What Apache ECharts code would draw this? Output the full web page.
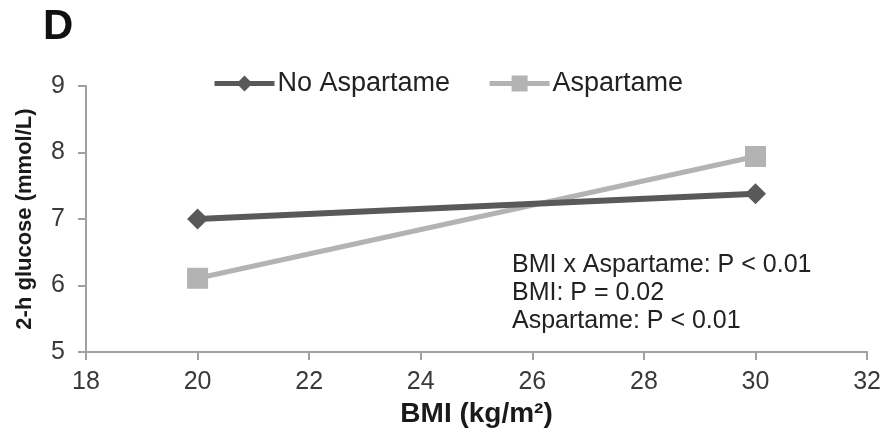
<!DOCTYPE html>
<html>
<head>
<meta charset="utf-8">
<script src="https://cdn.jsdelivr.net/npm/echarts@6/dist/echarts.min.js"></script>
<style>
  html, body { margin: 0; padding: 0; background: #fff; }
  #chart { width: 884px; height: 433px; }
</style>
</head>
<body>
<div id="chart"></div>
<script>
// BMI values at which 2-h glucose was estimated
const bmi = [20, 30];
// Predicted 2-h glucose (mmol/L) for each group
const noAspartame = [7.0, 7.38];
const aspartame = [6.11, 7.94];
// Axis settings
const xTicks = { min: 18, max: 32, interval: 2 };
const yTicks = { min: 5, max: 9, interval: 1 };
// Statistics printed inside the plot
const statLines = ['BMI x Aspartame: P < 0.01', 'BMI: P = 0.02', 'Aspartame: P < 0.01'];

const font = '"Liberation Sans", Arial, sans-serif';
const axisColor = '#a0a0a0';
const labelColor = '#3a3a3a';
const darkGray = '#595959';
const lightGray = '#b3b3b3';

const chart = echarts.init(document.getElementById('chart'), null, { renderer: 'canvas' });

chart.setOption({
  animation: false,
  backgroundColor: '#ffffff',
  title: {
    text: 'D',
    left: 43,
    top: 6,
    padding: 0,
    textStyle: { fontFamily: font, fontSize: 42, fontWeight: 'bold', color: '#111' }
  },
  legend: {
    top: 70,
    left: 212,
    padding: 0,
    itemWidth: 60,
    itemHeight: 20,
    itemGap: 37,
    lineStyle: { width: 5 },
    textStyle: { fontFamily: font, fontSize: 27, color: '#222', padding: [0, 0, 0, -2] },
    data: ['No Aspartame', 'Aspartame']
  },
  grid: { left: 86, right: 16, top: 86, bottom: 77, containLabel: false },
  xAxis: {
    type: 'value',
    min: xTicks.min, max: xTicks.max, interval: xTicks.interval,
    name: 'BMI (kg/m²)',
    nameLocation: 'middle',
    nameGap: 45,
    nameTextStyle: { fontFamily: font, fontSize: 28, fontWeight: 'bold', color: '#1a1a1a' },
    axisLine: { lineStyle: { color: axisColor, width: 2 } },
    axisTick: { show: true, length: 8, lineStyle: { color: axisColor, width: 2 } },
    axisLabel: { fontFamily: font, fontSize: 25, color: labelColor, margin: 18 },
    splitLine: { show: false }
  },
  yAxis: {
    type: 'value',
    min: yTicks.min, max: yTicks.max, interval: yTicks.interval,
    name: '2-h glucose (mmol/L)',
    nameLocation: 'middle',
    nameGap: 50,
    nameTextStyle: { fontFamily: font, fontSize: 22, fontWeight: 'bold', color: '#1a1a1a' },
    axisLine: { show: true, lineStyle: { color: axisColor, width: 2 } },
    axisTick: { show: true, length: 8, lineStyle: { color: axisColor, width: 2 } },
    axisLabel: { fontFamily: font, fontSize: 25, color: labelColor, margin: 21 },
    splitLine: { show: false }
  },
  graphic: statLines.map((t, i) => ({
    type: 'text',
    left: 512,
    top: 253 + i * 28,
    style: { text: t, font: '25px ' + font, fill: '#222' }
  })),
  series: [
    {
      name: 'No Aspartame',
      type: 'line',
      data: bmi.map((x, i) => [x, noAspartame[i]]),
      symbol: 'diamond',
      symbolSize: 21,
      lineStyle: { color: darkGray, width: 6 },
      itemStyle: { color: darkGray },
      z: 3
    },
    {
      name: 'Aspartame',
      type: 'line',
      data: bmi.map((x, i) => [x, aspartame[i]]),
      symbol: 'rect',
      symbolSize: 21,
      lineStyle: { color: lightGray, width: 5 },
      itemStyle: { color: lightGray },
      z: 2
    }
  ]
});
</script>
</body>
</html>
